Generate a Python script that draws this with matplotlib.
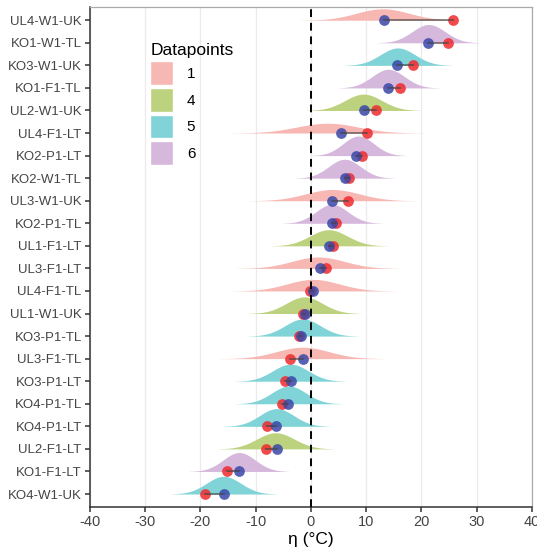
import numpy as np
import matplotlib.pyplot as plt
from matplotlib.patches import Patch

plt.rcParams['font.family'] = ['Liberation Sans', 'DejaVu Sans']
plt.rcParams['axes.unicode_minus'] = False

# rows, top to bottom
labels = ['UL4-W1-UK', 'KO1-W1-TL', 'KO3-W1-UK', 'KO1-F1-TL', 'UL2-W1-UK', 'UL4-F1-LT',
          'KO2-P1-LT', 'KO2-W1-TL', 'UL3-W1-UK', 'KO2-P1-TL', 'UL1-F1-LT', 'UL3-F1-LT',
          'UL4-F1-TL', 'UL1-W1-UK', 'KO3-P1-TL', 'UL3-F1-TL', 'KO3-P1-LT', 'KO4-P1-TL',
          'KO4-P1-LT', 'UL2-F1-LT', 'KO1-F1-LT', 'KO4-W1-UK']
datapoints = [1, 6, 5, 6, 4, 1, 6, 6, 1, 6, 4, 1, 1, 4, 5, 1, 5, 5, 5, 4, 6, 5]
dist_mean = [13.0, 21.3, 15.7, 14.0, 9.5, 3.0, 8.6, 6.1, 3.9, 3.8, 3.2, 1.3,
             0.4, -1.2, -1.5, -1.5, -3.7, -4.0, -6.2, -6.4, -13.0, -15.8]
dist_sd = [4.8, 3.0, 3.15, 2.95, 3.35, 5.6, 2.8, 2.9, 4.9, 2.9, 3.4, 4.8,
           4.75, 3.3, 3.2, 4.8, 3.2, 3.1, 3.1, 3.4, 2.9, 3.1]
eta_blue = [13.2, 21.2, 15.5, 13.9, 9.6, 5.4, 8.2, 6.2, 3.8, 3.8, 3.3, 1.6,
            0.4, -1.1, -1.8, -1.5, -3.6, -4.2, -6.3, -6.2, -13.0, -15.8]
eta_red = [25.7, 24.8, 18.5, 16.1, 11.8, 10.1, 9.3, 6.9, 6.7, 4.5, 4.0, 2.7,
           -0.2, -1.4, -2.2, -3.8, -4.7, -5.2, -7.9, -8.2, -15.2, -19.2]

fill_colors = {1: '#F7B7B3', 4: '#BDD27F', 5: '#80D3D6', 6: '#D5B8DC'}
scale = 6.1

fig = plt.figure(figsize=(5.37, 5.5), dpi=100)
ax = fig.add_axes([0.1676, 0.078, 0.823, 0.909])

n = len(labels)
for i in range(n):
    y0 = n - 1 - i
    mu, sd = dist_mean[i], dist_sd[i]
    xs = np.linspace(mu - 3.1 * sd, mu + 3.1 * sd, 300)
    dens = np.exp(-0.5 * ((xs - mu) / sd) ** 2) / (sd * np.sqrt(2 * np.pi))
    ax.fill_between(xs, y0, y0 + scale * dens, color=fill_colors[datapoints[i]],
                    lw=0, zorder=2 + i * 0.01)

ypos = [n - 1 - i for i in range(n)]
ax.scatter(eta_red, ypos, s=60, color='#EE2A2E', alpha=0.85, lw=0, zorder=4)
ax.scatter(eta_blue, ypos, s=60, color='#3A47A8', alpha=0.85, lw=0, zorder=4)
for i in range(n):
    ax.plot([eta_blue[i], eta_red[i]], [ypos[i], ypos[i]], color='#444444', lw=1.1,
            alpha=0.8, zorder=5)

ax.axvline(0, color='black', ls=(0, (4, 3)), lw=1.4, zorder=6)

ax.set_xlim(-40, 40)
ax.set_ylim(-0.58, n - 1 + 0.58)
ax.set_xticks(range(-40, 41, 10))
ax.set_yticks(ypos)
ax.set_yticklabels(labels)
ax.grid(axis='x', color='#EBEBEB', lw=0.9, zorder=0)
ax.set_axisbelow(True)
ax.tick_params(axis='both', labelsize=9.5, colors='#333333', length=3.5, width=1.1,
               labelcolor='#444444', pad=2.5)
ax.tick_params(axis='x', labelsize=10.5)
for s in ['top', 'right']:
    ax.spines[s].set_color('#AAAAAA')
    ax.spines[s].set_linewidth(0.9)
for s in ['left', 'bottom']:
    ax.spines[s].set_color('#333333')
    ax.spines[s].set_linewidth(1.1)
ax.set_xlabel('η (°C)', fontsize=12.5, labelpad=2)

handles = [Patch(facecolor=fill_colors[k], edgecolor='white', label=str(k))
           for k in [1, 4, 5, 6]]
leg = ax.legend(handles=handles, title='Datapoints', loc='upper left',
                bbox_to_anchor=(0.105, 0.955), frameon=False, fontsize=11,
                title_fontsize=12.5, handlelength=1.5, handleheight=2.0,
                labelspacing=0.2, handletextpad=0.9)
leg._legend_box.align = 'left'

fig.savefig('out.png', dpi=100)
